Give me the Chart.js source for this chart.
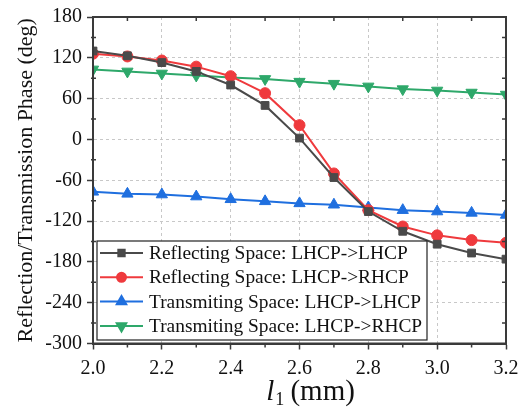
<!DOCTYPE html>
<html>
<head>
<meta charset="utf-8">
<script src="https://cdn.jsdelivr.net/npm/chart.js@4.4.1/dist/chart.umd.min.js"></script>
<style>
  html, body { margin: 0; padding: 0; background: #fff; }
  #wrap { width: 527px; height: 411px; }
</style>
</head>
<body>
<div id="wrap"><canvas id="phaseChart" width="527" height="411"></canvas></div>
<script>
// l1 values (mm)
let l1 = [2.0, 2.1, 2.2, 2.3, 2.4, 2.5, 2.6, 2.7, 2.8, 2.9, 3.0, 3.1, 3.2];

// phase values (deg)
let reflLL = [130, 123, 113, 100, 80, 50, 2, -56, -106, -135, -154, -167, -176];
let reflLR = [126, 122, 116, 107, 93, 68, 21, -50, -104, -128, -141, -148, -152];
let transLL = [-77, -80, -81, -84, -88, -91, -94, -96, -100, -104, -106, -108, -111];
let transLR = [103, 100, 97, 94, 91, 89, 85, 82, 78, 74, 72, 69, 66];

let seriesNames = [
  "Reflecting Space: LHCP->LHCP",
  "Reflecting Space: LHCP->RHCP",
  "Transmiting Space: LHCP->LHCP",
  "Transmiting Space: LHCP->RHCP"
];

let FONT = "'Liberation Serif', 'Times New Roman', serif";
let AXIS = "#3a3a3a";

Chart.defaults.font.family = FONT;
Chart.defaults.font.size = 20;
Chart.defaults.color = "#111";

function pts(ys) {
  return l1.map(function (x, i) { return { x: x, y: ys[i] }; });
}

function ds(label, ys, color, style, r, rot) {
  return {
    label: label,
    data: pts(ys),
    borderColor: color,
    backgroundColor: color,
    borderWidth: 2,
    pointStyle: style,
    pointRadius: r,
    pointHoverRadius: r,
    pointRotation: rot || 0,
    pointBorderWidth: 1,
    tension: 0
  };
}

// frame, minor ticks, legend box and the x title with subscript
let extras = {
  id: "extras",
  afterDraw: function (chart) {
    let ctx = chart.ctx;
    let a = chart.chartArea;
    let xs = chart.scales.x, ys = chart.scales.y;
    ctx.save();
    ctx.strokeStyle = AXIS;
    ctx.lineWidth = 2;
    ctx.strokeRect(a.left, a.top, a.right - a.left, a.bottom - a.top);

    // minor ticks
    ctx.lineWidth = 1.5;
    for (let v = 2.1; v < 3.2; v += 0.2) {
      let px = xs.getPixelForValue(v);
      ctx.beginPath();
      ctx.moveTo(px, a.bottom); ctx.lineTo(px, a.bottom + 4);
      ctx.moveTo(px, a.top); ctx.lineTo(px, a.top + 4);
      ctx.stroke();
    }
    for (let v = -270; v < 180; v += 60) {
      let py = ys.getPixelForValue(v);
      ctx.beginPath();
      ctx.moveTo(a.left - 2, py); ctx.lineTo(a.left + 3, py);
      ctx.moveTo(a.right, py); ctx.lineTo(a.right - 4, py);
      ctx.stroke();
    }

    // legend
    let bx = 97, by = 241, bw = 330, bh = 99;
    ctx.fillStyle = "#fff";
    ctx.fillRect(bx, by, bw, bh);
    ctx.strokeStyle = "#222";
    ctx.lineWidth = 1.2;
    ctx.strokeRect(bx, by, bw, bh);
    ctx.font = "19.4px " + FONT;
    ctx.textBaseline = "middle";
    chart.data.datasets.forEach(function (d, i) {
      let cy = 253 + i * 24.3;
      ctx.strokeStyle = d.borderColor;
      ctx.lineWidth = 2;
      ctx.beginPath();
      ctx.moveTo(100, cy); ctx.lineTo(143, cy);
      ctx.stroke();
      Chart.helpers.drawPoint(ctx, {
        pointStyle: d.pointStyle, rotation: d.pointRotation,
        radius: d.pointRadius - 1, borderWidth: 1
      }, 121.5, cy);
      ctx.fillStyle = d.borderColor;
      ctx.fill();
      ctx.fillStyle = "#111";
      ctx.fillText(d.label, 149, cy + 1);
    });

    // x title: italic l with subscript 1
    let cx = (a.left + a.right) / 2 + 11;
    let base = 400;
    ctx.fillStyle = "#111";
    ctx.textBaseline = "alphabetic";
    ctx.font = "italic 29px " + FONT;
    let w1 = ctx.measureText("l").width;
    ctx.font = "18px " + FONT;
    let w2 = ctx.measureText("1").width;
    ctx.font = "29px " + FONT;
    let w3 = ctx.measureText(" (mm)").width;
    let x0 = cx - (w1 + w2 + w3) / 2;
    ctx.font = "italic 29px " + FONT;
    ctx.fillText("l", x0, base);
    ctx.font = "18px " + FONT;
    ctx.fillText("1", x0 + w1 + 1, base + 5);
    ctx.font = "29px " + FONT;
    ctx.fillText(" (mm)", x0 + w1 + w2, base);
    ctx.restore();
  }
};

let chart = new Chart(document.getElementById("phaseChart"), {
  type: "line",
  data: {
    datasets: [
      ds(seriesNames[0], reflLL, "#4a4a4a", "rect", 5.5),
      ds(seriesNames[1], reflLR, "#ef3a3d", "circle", 5.5),
      ds(seriesNames[2], transLL, "#1f6fdf", "triangle", 6.5),
      ds(seriesNames[3], transLR, "#2ea86a", "triangle", 6.5, 180)
    ]
  },
  options: {
    responsive: false,
    animation: false,
    layout: { padding: { top: 10, right: 21, left: 0, bottom: 0 } },
    plugins: {
      legend: { display: false },
      tooltip: { enabled: false }
    },
    scales: {
      x: {
        type: "linear",
        min: 2.0,
        max: 3.2,
        afterFit: function (s) { s.height = 67.5; },
        afterBuildTicks: function (s) {
          s.ticks = [2.0, 2.2, 2.4, 2.6, 2.8, 3.0, 3.2].map(function (v) { return { value: v }; });
        },
        ticks: {
          color: "#111",
          font: { family: FONT, size: 20 },
          padding: 7,
          maxRotation: 0,
          callback: function (v) { return v.toFixed(1); }
        },
        grid: {
          color: "#c8c8c8",
          lineWidth: 1,
          tickLength: 6,
          tickColor: AXIS,
          tickWidth: 1.5,
          tickBorderDash: []
        },
        border: { display: true, color: AXIS, width: 2, dash: [3, 3] }
      },
      y: {
        min: -300,
        max: 180,
        afterFit: function (s) { s.width = 93; },
        ticks: {
          stepSize: 60,
          color: "#111",
          font: { family: FONT, size: 20 },
          padding: 5
        },
        title: {
          display: true,
          text: "Reflection/Transmission Phase (deg)",
          color: "#111",
          font: { family: FONT, size: 22 },
          padding: { top: 13, bottom: 0 }
        },
        grid: {
          color: "#c8c8c8",
          lineWidth: 1,
          tickLength: 6,
          tickColor: AXIS,
          tickWidth: 1.5,
          tickBorderDash: []
        },
        border: { display: true, color: AXIS, width: 2, dash: [3, 3] }
      }
    }
  },
  plugins: [extras]
});
</script>
</body>
</html>
